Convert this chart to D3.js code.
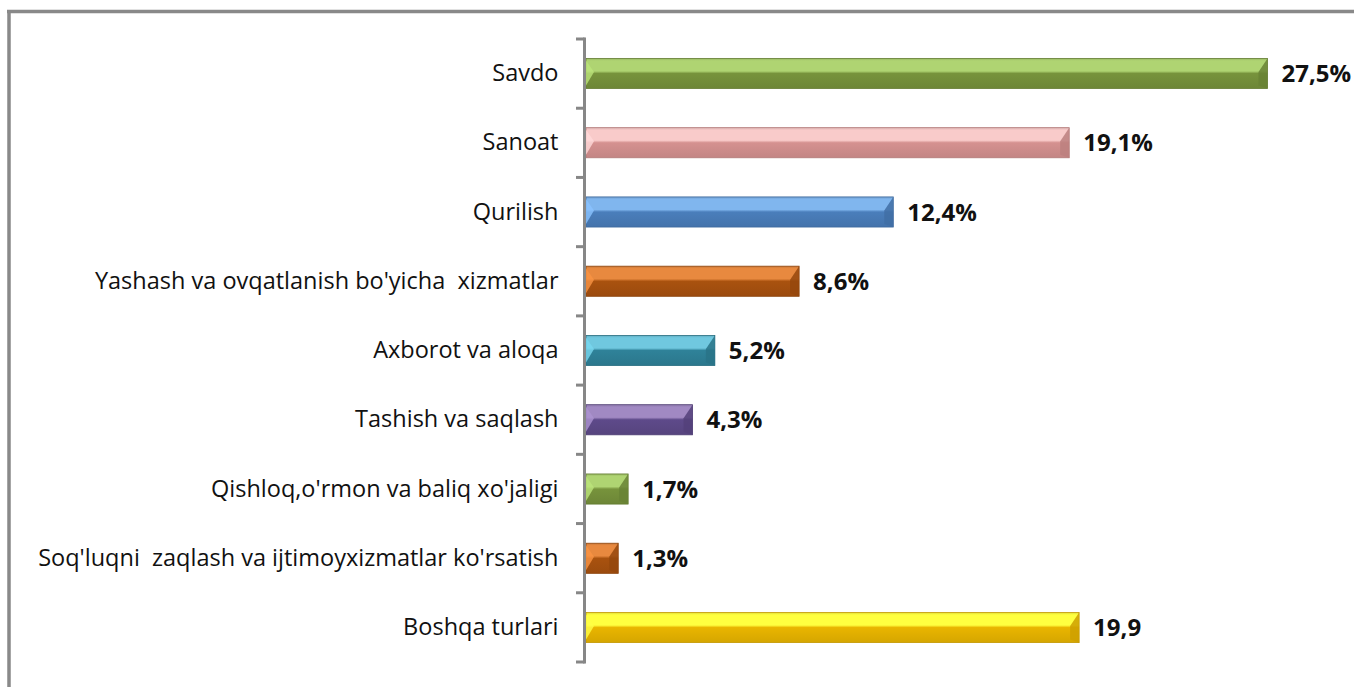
<!DOCTYPE html>
<html>
<head>
<meta charset="utf-8">
<script src="https://cdn.jsdelivr.net/npm/d3@7"></script>
<style>
  html, body { margin: 0; padding: 0; background: #fff; }
  svg { display: block; }
  .cat { font-family: "Open Sans", sans-serif; font-size: 23.5px; fill: #111; }
  .val { font-family: "Open Sans", sans-serif; font-size: 24px; font-weight: bold; fill: #111; }
</style>
</head>
<body>
<div id="chart"></div>
<script>
// data
var categories = [
  "Savdo",
  "Sanoat",
  "Qurilish",
  "Yashash va ovqatlanish bo'yicha  xizmatlar",
  "Axborot va aloqa",
  "Tashish va saqlash",
  "Qishloq,o'rmon va baliq xo'jaligi",
  "Soq'luqni  zaqlash va ijtimoyxizmatlar ko'rsatish",
  "Boshqa turlari"
];
var values = [27.5, 19.5, 12.4, 8.6, 5.2, 4.3, 1.7, 1.3, 19.9];
var valueLabels = ["27,5%", "19,1%", "12,4%", "8,6%", "5,2%", "4,3%", "1,7%", "1,3%", "19,9"];
var lightColors = ["#afd472", "#f9cbca", "#80b6ee", "#e8893f", "#70c8df", "#a189c3", "#afd472", "#e8893f", "#ffff40"];
var darkColors  = ["#77933c", "#d59190", "#4a7ebb", "#a9520f", "#2f8299", "#5e4a8a", "#77933c", "#a9520f", "#e9b500"];

var W = 1354, H = 687;
var svg = d3.select("#chart").append("svg").attr("width", W).attr("height", H);
var defs = svg.append("defs");

// outer frame (only top and left visible)
svg.append("line").attr("x1", 7).attr("x2", W).attr("y1", 11.5).attr("y2", 11.5)
  .attr("stroke", "#898989").attr("stroke-width", 3.5);
svg.append("line").attr("x1", 9).attr("x2", 9).attr("y1", 10).attr("y2", H)
  .attr("stroke", "#898989").attr("stroke-width", 3.5);

var x0 = 586;
var xScale = d3.scaleLinear().domain([0, 30]).range([x0, x0 + 30 * 24.78]);
var yScale = d3.scaleBand().domain(categories).range([39, 662]).paddingInner(0.565).paddingOuter(0.28);

// gradients per bar
categories.forEach(function (c, i) {
  var g = defs.append("linearGradient").attr("id", "grad" + i)
    .attr("x1", 0).attr("y1", 0).attr("x2", 0).attr("y2", 1);
  g.append("stop").attr("offset", "0%").attr("stop-color", d3.color(lightColors[i]).darker(0.4));
  g.append("stop").attr("offset", "8%").attr("stop-color", lightColors[i]);
  g.append("stop").attr("offset", "42%").attr("stop-color", lightColors[i]);
  g.append("stop").attr("offset", "50%").attr("stop-color", darkColors[i]);
  g.append("stop").attr("offset", "100%").attr("stop-color", d3.color(darkColors[i]).darker(0.25));
});

var bars = svg.append("g").selectAll("g").data(values).join("g");

bars.append("rect")
  .attr("x", xScale(0))
  .attr("y", function (d, i) { return yScale(categories[i]); })
  .attr("width", function (d) { return xScale(d) - xScale(0); })
  .attr("height", yScale.bandwidth())
  .attr("fill", function (d, i) { return "url(#grad" + i + ")"; })
  .attr("stroke", function (d, i) { return d3.color(darkColors[i]).darker(0.5); })
  .attr("stroke-width", 0.8);

// right bevel
bars.append("path")
  .attr("d", function (d, i) {
    var xa = xScale(d), y0 = yScale(categories[i]), h = yScale.bandwidth();
    var b = Math.min(9, (xa - xScale(0)) / 3);
    return "M" + xa + "," + y0 + "L" + xa + "," + (y0 + h) + "L" + (xa - b) + "," + (y0 + h - 3) +
      "L" + (xa - b) + "," + (y0 + h * 0.45) + "Z";
  })
  .attr("fill", function (d, i) { return d3.color(darkColors[i]).darker(0.35); })
  .attr("opacity", 0.85);

// left bevel
bars.append("path")
  .attr("d", function (d, i) {
    var xa = xScale(0), y0 = yScale(categories[i]), h = yScale.bandwidth();
    var b = Math.min(8, (xScale(d) - xa) / 3);
    return "M" + xa + "," + (y0 + 2) + "L" + (xa + b) + "," + (y0 + h * 0.45) + "L" + xa + "," + (y0 + h - 3) + "Z";
  })
  .attr("fill", function (d, i) { return d3.color(lightColors[i]).brighter(0.2); })
  .attr("opacity", 0.8);

// value labels
svg.append("g").selectAll("text").data(values).join("text")
  .attr("class", "val")
  .attr("x", function (d) { return xScale(d) + 14; })
  .attr("y", function (d, i) { return yScale(categories[i]) + yScale.bandwidth() / 2; })
  .attr("dy", "0.36em")
  .text(function (d, i) { return valueLabels[i]; });

// axis
var yAxis = d3.axisLeft(yScale).tickSize(0).tickPadding(26).tickSizeOuter(0);
var axisG = svg.append("g").attr("transform", "translate(" + (x0 - 1.5) + ",0)").call(yAxis);
axisG.select(".domain").attr("stroke", "#878787").attr("stroke-width", 3);
axisG.selectAll(".tick text").attr("class", "cat").attr("fill", null).style("white-space", "pre");

// category boundary ticks
var bounds = d3.range(categories.length + 1).map(function (k) { return 39 + k * (623 / categories.length); });
svg.append("g").selectAll("line").data(bounds).join("line")
  .attr("x1", x0 - 10).attr("x2", x0 - 1.5)
  .attr("y1", function (d) { return d; }).attr("y2", function (d) { return d; })
  .attr("stroke", "#878787").attr("stroke-width", 3);
axisG.select(".domain").attr("d", "M0,37.5V663.5");
</script>
</body>
</html>
